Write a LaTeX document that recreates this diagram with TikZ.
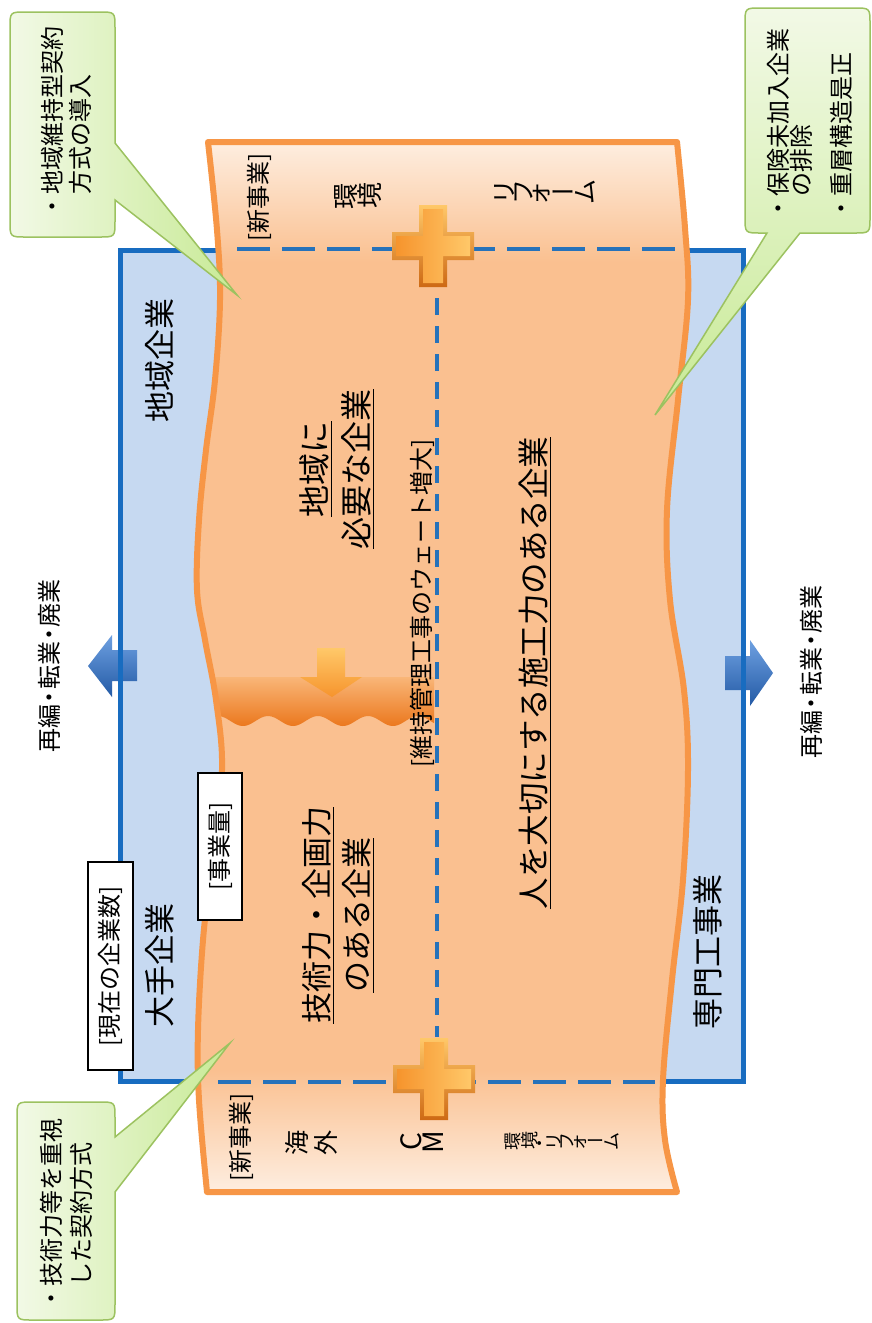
\documentclass[tikz,border=0pt]{standalone}
\usepackage{fontspec}
\usepackage{graphicx}
\setmainfont{Noto Sans CJK JP}
\usetikzlibrary{calc}

\definecolor{peach}{RGB}{250,192,144}
\definecolor{peachlight}{RGB}{254,240,228}
\definecolor{orstroke}{RGB}{247,150,70}
\definecolor{bluefill}{RGB}{198,217,241}
\definecolor{bluestroke}{RGB}{24,108,192}
\definecolor{dashblue}{RGB}{38,114,186}
\definecolor{greenlight}{RGB}{242,249,230}
\definecolor{greendark}{RGB}{200,234,150}
\definecolor{greenborder}{RGB}{156,194,96}
\definecolor{bandtop}{RGB}{249,182,120}
\definecolor{bandbot}{RGB}{235,120,30}
\definecolor{crossdark}{RGB}{205,105,20}
\definecolor{crosslight}{RGB}{255,200,105}
\definecolor{crossmid}{RGB}{246,148,45}
\definecolor{arrowlight}{RGB}{110,160,225}
\definecolor{arrowdark}{RGB}{35,90,165}

\newcommand\ulx[1]{\setbox0\hbox{#1}\rlap{\rule[-6pt]{\wd0}{1.3pt}}\box0}
\newcommand\vt[1]{\rotatebox[origin=c]{90}{#1}}
\newcommand\fsz[2]{\fontsize{#1}{#2}\selectfont}
\newcommand\nb{\kern-0.2em・\kern-0.2em}

\def\orpath{(208,142) -- (677,142) -- plot[smooth,tension=0.6] coordinates {(677,142) (685,228) (688,300) (678,400) (667,510) (670,600) (684,690) (688,770) (683,880) (672,980) (663,1080) (665,1140) (677,1192)} -- (207,1192) -- plot[smooth,tension=0.6] coordinates {(207,1192) (199,1100) (198,1030) (203,940) (212,860) (222,770) (216,700) (205,640) (197,590) (199,520) (206,450) (215,380) (220,300) (217,230) (208,142)} -- cycle}

\newcommand\crossat[2]{%
\begin{scope}[shift={(#1,#2)}]
\shade[top color=crosslight, bottom color=crossdark] (-14,-41) -- (14,-41) -- (14,-14) -- (41,-14) -- (41,14) -- (14,14) -- (14,41) -- (-14,41) -- (-14,14) -- (-41,14) -- (-41,-14) -- (-14,-14) -- cycle;
\shade[left color=crossmid, right color=crosslight] (-10,-37) -- (10,-37) -- (10,-10) -- (37,-10) -- (37,10) -- (10,10) -- (10,37) -- (-10,37) -- (-10,10) -- (-37,10) -- (-37,-10) -- (-10,-10) -- cycle;
\end{scope}}

\begin{document}
\begin{tikzpicture}[x=1pt,y=-1pt,
  rt/.style={rotate=90, inner sep=0pt},
  boxlabel/.style={rotate=90, draw=black, fill=white, line width=1.5pt, inner sep=0pt, font=\fsz{24}{28}},
  calltext/.style={rotate=90, inner sep=0pt, align=left, font=\fsz{24}{28}},
  callshape/.style={draw=greenborder, line width=1.5pt},
  dashline/.style={draw=dashblue, line width=4.5pt}]
\useasboundingbox (0,0) rectangle (872,1323);
\fill[white] (0,0) rectangle (872,1323);

% blue box
\fill[bluefill] (120,250) rectangle (743,1081);
\shade[top color=arrowlight, bottom color=arrowdark] (137,650) -- (112,650) -- (112,635) -- (88,666) -- (112,697) -- (112,681) -- (137,681) -- cycle;
\shade[top color=arrowlight, bottom color=arrowdark] (725,656) -- (750,656) -- (750,640) -- (773,673) -- (750,706) -- (750,690) -- (725,690) -- cycle;
\draw[bluestroke, line width=5pt] (120,250) rectangle (743,1081);

% orange shape
\fill[peach] \orpath;
\begin{scope}
\clip \orpath;
\shade[top color=peachlight, bottom color=peach] (150,136) rectangle (720,262);
\shade[top color=peach, bottom color=peachlight] (150,1070) rectangle (720,1198);
\shade[top color=bandtop, bottom color=bandbot] (190,677) -- (434,677) -- plot[domain=434:190, samples=100] (\x,{721+5*cos(7.2*(\x-243))}) -- cycle;
\end{scope}
\draw[orstroke, line width=6pt, line join=round] \orpath;

% dashed lines
\draw[dashline, dash pattern=on 33pt off 12pt] (237,249) -- (677,249);
\draw[dashline, dash pattern=on 33pt off 12pt] (218,1082) -- (655,1082);
\draw[dashline, dash pattern=on 17pt off 11pt] (437,298) -- (437,1037);

% crosses
\crossat{433}{246}
\crossat{434}{1079}

% down arrow
\shade[top color=crosslight, bottom color=crossmid] (317,648) -- (345,648) -- (345,677) -- (362,677) -- (332,697) -- (300,677) -- (317,677) -- cycle;

% texts
\node[rt, font=\fsz{31}{36}] (chiiki) at (160,360) {地域企業};
\node[rt, font=\fsz{31}{36}] (oote) at (160,965) {大手企業};
\node[rt, font=\fsz{31}{36}] (senmon) at (708,952) {専門工事業};
\node[boxlabel, minimum width=208pt, minimum height=45pt] (genzai) at (110.5,966) {[現在の企業数]};
\node[boxlabel, minimum width=147pt, minimum height=44pt] (jigyo) at (220,846.5) {[事業量]};
\node[rt, align=center, font=\fsz{32}{42}] (hitsuyo) at (337,469) {\ulx{地域に}\\\ulx{必要な企業}};
\node[rt, align=center, font=\fsz{31}{40}] (gijutsu) at (338,915) {\ulx{技術力・企画力}\\\ulx{のある企業}};
\node[rt, font=\fsz{31.5}{36}] (hito) at (535,673) {\ulx{人を大切にする施工力のある企業}};
\node[rt, font=\fsz{24}{28}] (iji) at (422,603) {[維持管理工事のウェート増大]};
\node[rt, font=\fsz{24}{28}] (saiL) at (49,666) {再編\nb 転業\nb 廃業};
\node[rt, font=\fsz{24}{28}] (saiR) at (811,672) {再編\nb 転業\nb 廃業};
\node[rt, font=\fsz{24}{28}] (shinA) at (259,197) {[新事業]};
\node[inner sep=0pt, font=\fsz{26}{30}] (kankyoA) at (358,196) {\vt{環}\vt{境}};
\node[inner sep=0pt, font=\fsz{25}{30}] (reformA) at (545,193) {\vt{リ}\vt{フ}\vt{ォ}ー\vt{ム}};
\node[rt, font=\fsz{24}{28}] (shinB) at (241,1137) {[新事業]};
\node[inner sep=0pt, font=\fsz{25}{30}] (kaigai) at (311,1143) {\vt{海}\hspace{6pt}\vt{外}};
\node[inner sep=0pt, font=\fsz{28}{30}] (cm) at (422,1142) {\vt{C}\hspace{2pt}\vt{M}};
\node[inner sep=0pt, font=\fsz{18}{20}] (kr) at (562,1142) {\vt{環}\vt{境}\vt{・}\vt{リ}\vt{フ}\vt{ォ}ー\vt{ム}};

% callouts
\shadedraw[callshape, left color=greenlight, right color=greendark] (26,12) -- (99,12) .. controls (115,12) .. (115,28) -- (115,143) -- (237,295) -- (115,200) -- (115,221) .. controls (115,237) .. (99,237) -- (26,237) .. controls (10,237) .. (10,221) -- (10,28) .. controls (10,12) .. (26,12) -- cycle;
\shadedraw[callshape, top color=greenlight, bottom color=greendark] (761,8) -- (854,8) .. controls (870,8) .. (870,24) -- (870,217) .. controls (870,233) .. (854,233) -- (800,233) -- (655,415) -- (767,233) -- (761,233) .. controls (745,233) .. (745,217) -- (745,24) .. controls (745,8) .. (761,8) -- cycle;
\shadedraw[callshape, left color=greenlight, right color=greendark] (33,1102) -- (99,1102) .. controls (115,1102) .. (115,1118) -- (115,1137) -- (230,1043) -- (115,1192) -- (115,1304) .. controls (115,1320) .. (99,1320) -- (33,1320) .. controls (17,1320) .. (17,1304) -- (17,1118) .. controls (17,1102) .. (33,1102) -- cycle;

\node[calltext] (c1text) at (66,122) {・地域維持型契約\\\phantom{・}方式の導入};
\node[calltext, font=\fsz{24}{23}] (c2text) at (810,124) {・保険未加入企業\\\phantom{・}の排除\\[17pt]・重層構造是正};
\node[calltext, font=\fsz{24}{30}] (c3text) at (66,1214) {・技術力等を重視\\\phantom{・}した契約方式};
\end{tikzpicture}
\end{document}
